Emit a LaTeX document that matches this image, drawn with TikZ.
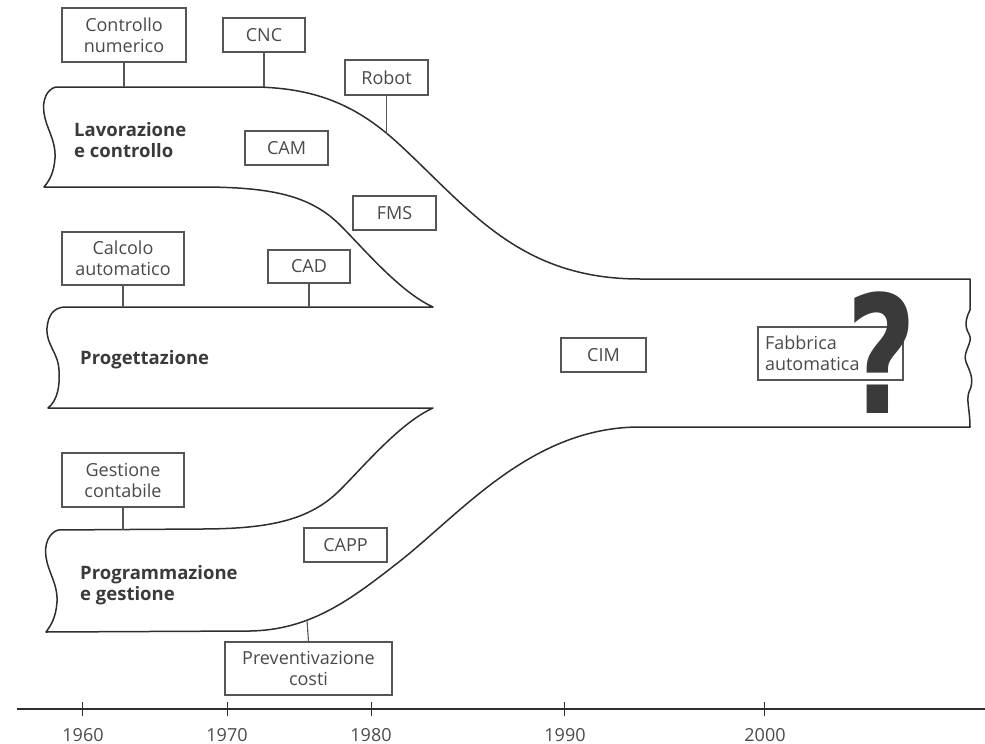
\documentclass[tikz,border=0pt]{standalone}
\usepackage{fontspec}
\setmainfont{Open Sans}
\newfontfamily\qfont{DejaVu Sans}
\definecolor{olc}{HTML}{2E2E2E}
\definecolor{boxc}{HTML}{555555}
\definecolor{txtc}{HTML}{4A4A4A}
\definecolor{lblc}{HTML}{3A3A3A}
\definecolor{qc}{HTML}{3A3A3A}
\begin{document}
\begin{tikzpicture}[x=1pt,y=-1pt,
  outline/.style={draw=olc, line width=1.5pt, line join=round},
  box/.style={draw=boxc, line width=1.1pt, fill=white, text=txtc, font=\fontsize{18}{21}\selectfont, align=center, inner sep=0pt},
  lbl/.style={text=lblc, font=\fontsize{18.5}{21}\selectfont\bfseries, align=left, inner sep=0pt},
  link/.style={draw=boxc, line width=1.1pt},
  year/.style={text=txtc, font=\fontsize{18}{21}\selectfont, inner sep=0pt, anchor=base},
  tickmark/.style={draw=olc, line width=1pt},
  qmark/.style={text=qc, font=\fontsize{164}{164}\qfont\bfseries, inner sep=0pt, anchor=base, xscale=0.74}]
\useasboundingbox (0,0) rectangle (985,744);

% ---- outline of the flow bands (one closed contour)
\draw[outline] (44,187)
  .. controls (50,180) and (54,172) .. (55,158)
  .. controls (56,140) and (46,128) .. (44,113)
  .. controls (42,100) and (47,89) .. (56,87)
  -- (255,87)
  .. controls (320,88) and (360,108) .. (400,145)
  .. controls (470,210) and (520,279) .. (640,279)
  -- (970,279) -- (970,310)
  .. controls (966,318) and (964,326) .. (969,334)
  .. controls (974,342) and (962,352) .. (966,362)
  .. controls (970,372) and (975,380) .. (969,392)
  .. controls (966,400) and (970,410) .. (970,427)
  -- (640,427)
  .. controls (530,427) and (460,515) .. (395,565)
  .. controls (350,600) and (310,630) .. (250,631)
  -- (46,632)
  .. controls (52,624) and (56,616) .. (57,602)
  .. controls (58,584) and (48,572) .. (46,557)
  .. controls (44,544) and (49,533) .. (58,530)
  -- (200,529)
  .. controls (270,529) and (310,520) .. (340,490)
  .. controls (365,465) and (400,423) .. (433,408)
  -- (48,408)
  .. controls (58,400) and (60,385) .. (59,370)
  .. controls (58,352) and (46,345) .. (47,328)
  .. controls (48,316) and (53,308) .. (64,307)
  -- (433,307)
  .. controls (400,292) and (365,250) .. (340,225)
  .. controls (310,195) and (270,187) .. (200,187)
  -- cycle;

% ---- band labels
\node[lbl, anchor=west] (lav) at (74,140) {Lavorazione\\e controllo};
\node[lbl, anchor=base west] (prog) at (80,364) {Progettazione};
\node[lbl, anchor=west] (pgest) at (80,585) {Programmazione\\e gestione};

% ---- boxes
\node[box, minimum width=124, minimum height=54] (ctrl) at (124,35) {Controllo\\numerico};
\node[box, minimum width=82, minimum height=34] (cnc) at (264,35) {CNC};
\node[box, minimum width=83, minimum height=35] (robot) at (386.5,77.5) {Robot};
\node[box, minimum width=83, minimum height=34] (cam) at (286.5,148) {CAM};
\node[box, minimum width=83, minimum height=34] (fms) at (394.5,213) {FMS};
\node[box, minimum width=122, minimum height=53] (calc) at (123,258.5) {Calcolo\\automatico};
\node[box, minimum width=82, minimum height=33] (cad) at (309,266.5) {CAD};
\node[box, minimum width=85, minimum height=34] (cim) at (603.5,355) {CIM};
\node[box, align=left, text width=131, inner xsep=7, minimum height=53] (fab) at (830.5,353.5) {Fabbrica\\automatica};
\node[box, minimum width=122, minimum height=54] (gest) at (123,480) {Gestione\\contabile};
\node[box, minimum width=83, minimum height=34] (capp) at (345.5,545) {CAPP};
\node[box, minimum width=167, minimum height=53] (prev) at (308.5,668.5) {Preventivazione\\costi};

% ---- question mark
\node[qmark] (q) at (882,413) {?};

% ---- connectors from boxes to the bands
\coordinate (p-ctrl) at (124,87);
\coordinate (p-cnc) at (264,87.2);
\coordinate (p-robot) at (386.5,133.5);
\coordinate (p-calc) at (123,307);
\coordinate (p-cad) at (309,307);
\coordinate (p-gest) at (123,530);
\coordinate (p-prev) at (307,620.5);
\draw[link] (ctrl.south) -- (p-ctrl);
\draw[link] (cnc.south) -- (p-cnc);
\draw[link] (robot.south) -- (p-robot);
\draw[link] (calc.south) -- (p-calc);
\draw[link] (cad.south) -- (p-cad);
\draw[link] (gest.south) -- (p-gest);
\draw[link] (prev.north) -- (p-prev);

% ---- time axis
\coordinate (axL) at (17,709);
\coordinate (axR) at (985,709);
\draw[olc, line width=1.4pt] (axL) -- (axR);
\foreach \xx/\yr/\lx in {82/1960/83, 227/1970/227, 371/1980/371, 564/1990/565, 764/2000/765}{
  \draw[tickmark] (\xx,702) -- (\xx,716);
  \node[year] (y\yr) at (\lx,741) {\yr};
}
\end{tikzpicture}
\end{document}
